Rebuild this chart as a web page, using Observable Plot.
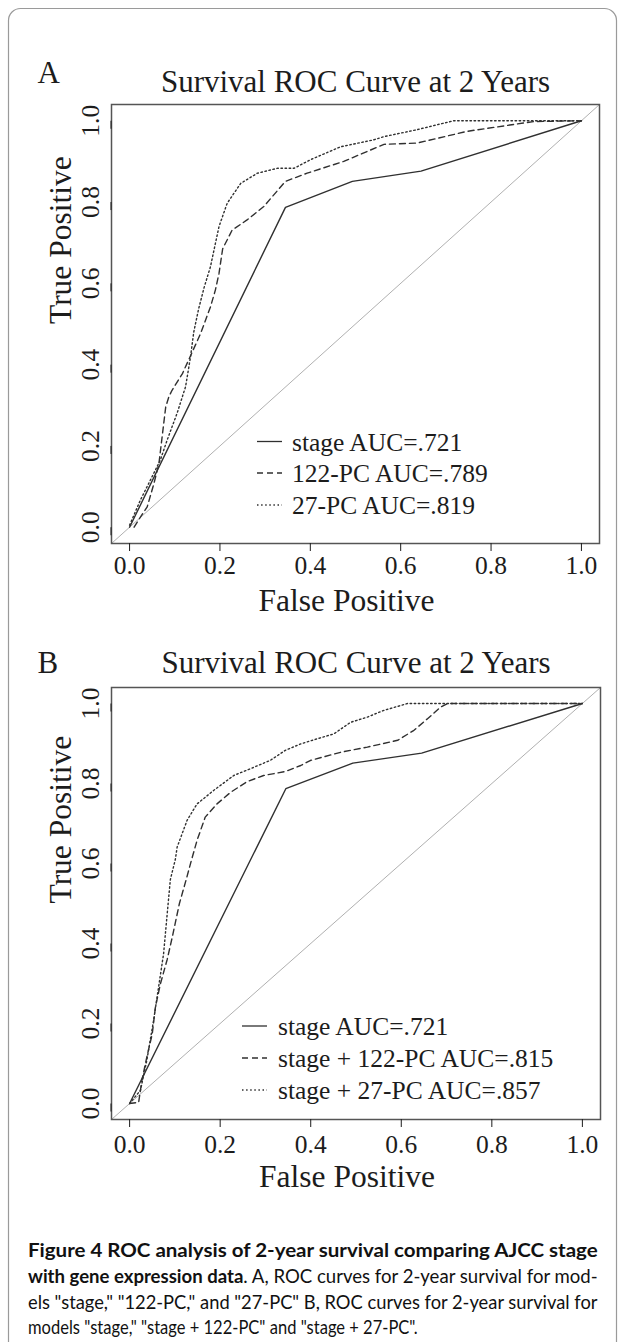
<!DOCTYPE html>
<html><head><meta charset="utf-8">
<script src="https://cdn.jsdelivr.net/npm/d3@7"></script>
<script src="https://cdn.jsdelivr.net/npm/@observablehq/plot@0.6"></script>
<style>
body{margin:0;background:#fff;}
#page{position:relative;width:624px;height:1342px;overflow:hidden;background:#fff;}
#page > svg, #page > div{position:absolute;left:0;}
</style></head><body><div id="page"></div>
<script>
// ---------- data ----------
const xTicks = [0, 0.2, 0.4, 0.6, 0.8, 1.0];
const yTicks = [0, 0.2, 0.4, 0.6, 0.8, 1.0];
const chartTitle = "Survival ROC Curve at 2 Years";
const xLabel = "False Positive";
const yLabel = "True Positive";
const panelLetters = ["A", "B"];

// stage (same in both panels)
const stageFPR = [0, 0.345, 0.493, 0.645, 1];
const stageTPR = [0, 0.787, 0.851, 0.876, 1];

// Panel A: 122-PC
const pc122FPR = [0.01, 0.024, 0.039, 0.054, 0.065, 0.072, 0.080, 0.087, 0.094, 0.117, 0.135, 0.157, 0.179, 0.190, 0.198, 0.206, 0.227, 0.260, 0.297, 0.345, 0.393, 0.474, 0.563, 0.636, 0.747, 0.894, 1];
const pc122TPR = [0.0, 0.025, 0.050, 0.108, 0.157, 0.222, 0.296, 0.321, 0.337, 0.378, 0.422, 0.476, 0.542, 0.584, 0.625, 0.685, 0.731, 0.756, 0.789, 0.851, 0.871, 0.900, 0.942, 0.945, 0.974, 0.998, 1];
// Panel A: 27-PC
const pc27FPR = [0, 0.024, 0.046, 0.068, 0.083, 0.105, 0.124, 0.135, 0.142, 0.153, 0.165, 0.179, 0.198, 0.216, 0.246, 0.283, 0.327, 0.364, 0.400, 0.467, 0.540, 0.563, 0.636, 0.717, 1];
const pc27TPR = [0.005, 0.067, 0.116, 0.165, 0.214, 0.280, 0.346, 0.420, 0.480, 0.538, 0.590, 0.641, 0.740, 0.797, 0.846, 0.871, 0.883, 0.883, 0.904, 0.936, 0.953, 0.961, 0.978, 1.0, 1];

// Panel B: stage + 122-PC
const st122FPR = [0, 0.020, 0.027, 0.038, 0.050, 0.057, 0.068, 0.083, 0.095, 0.110, 0.125, 0.137, 0.149, 0.167, 0.193, 0.223, 0.260, 0.296, 0.344, 0.378, 0.400, 0.466, 0.525, 0.592, 0.628, 0.658, 0.687, 0.702, 1];
const st122TPR = [0, 0.003, 0.057, 0.116, 0.174, 0.241, 0.299, 0.360, 0.420, 0.500, 0.560, 0.610, 0.658, 0.716, 0.749, 0.778, 0.805, 0.820, 0.830, 0.845, 0.858, 0.878, 0.891, 0.908, 0.933, 0.962, 0.991, 1.0, 1];
// Panel B: stage + 27-PC
const st27FPR = [0, 0.024, 0.038, 0.053, 0.064, 0.075, 0.079, 0.083, 0.090, 0.101, 0.105, 0.127, 0.149, 0.186, 0.230, 0.267, 0.311, 0.344, 0.378, 0.415, 0.451, 0.488, 0.525, 0.562, 0.614, 1];
const st27TPR = [0, 0.033, 0.108, 0.208, 0.291, 0.374, 0.424, 0.474, 0.560, 0.610, 0.641, 0.708, 0.749, 0.783, 0.820, 0.837, 0.858, 0.883, 0.899, 0.912, 0.924, 0.953, 0.966, 0.983, 1.0, 1];

const legendA = ["stage AUC=.721", "122-PC AUC=.789", "27-PC AUC=.819"];
const legendB = ["stage AUC=.721", "stage + 122-PC AUC=.815", "stage + 27-PC AUC=.857"];
const lineTypes = ["solid", "dashed", "dotted"];

const captionLines = [
  [["Figure 4 ROC analysis of 2-year survival comparing AJCC stage", true]],
  [["with gene expression data", true], [". A, ROC curves for 2-year survival for mod-", false]],
  [["els \"stage,\" \"122-PC,\" and \"27-PC\" B, ROC curves for 2-year survival for", false]],
  [["models \"stage,\" \"stage + 122-PC\" and \"stage + 27-PC\".", false]]
];

// ---------- styles ----------
const W = 624;
const serif = "'Liberation Serif','Times New Roman',serif";
const ink = "#1c1c1c", curveInk = "#303030", frameInk = "#555", diagInk = "#b0b0b0";
const dashOf = {solid: null, dashed: "6,4", dotted: "1.5,2.6"};
const dom = [-0.04, 1.04];
const pts = (fpr, tpr) => fpr.map((x, i) => ({x, y: tpr[i]}));

function panel(o) {
  return Plot.plot({
    width: W, height: o.height,
    marginTop: o.mt, marginBottom: o.mb, marginLeft: 111, marginRight: o.mr,
    x: {domain: dom}, y: {domain: dom},
    style: {fontFamily: serif, color: ink, background: "transparent", overflow: "visible"},
    marks: [
      Plot.line(dom.map(v => ({x: v, y: v})), {x: "x", y: "y", stroke: diagInk, strokeWidth: 1}),
      ...o.curves.map((c, i) => Plot.line(pts(c[0], c[1]), {
        x: "x", y: "y", stroke: curveInk, strokeWidth: 1.4,
        strokeDasharray: dashOf[lineTypes[i]] ?? undefined
      })),
      Plot.frame({stroke: frameInk, strokeWidth: 1.5}),
      Plot.axisX({ticks: xTicks, tickFormat: d => d.toFixed(1), tickSize: 8, tickPadding: o.xPad, fontSize: 25.5, label: null}),
      Plot.axisY({ticks: yTicks, tickFormat: d => d.toFixed(1), tickSize: 8, tickPadding: 5, fontSize: 25.5, label: null,
                  rotate: -90, textAnchor: "middle", lineAnchor: "bottom"}),
      Plot.text([o.letter], {text: d => d, frameAnchor: "top-left", dx: -74, dy: o.letterDy, textAnchor: "start", lineAnchor: "bottom", fontSize: 31}),
      Plot.text([chartTitle], {text: d => d, frameAnchor: "top", dy: o.titleDy, lineAnchor: "bottom", fontSize: 31}),
      Plot.text([xLabel], {text: d => d, frameAnchor: "bottom", dx: -9, dy: o.xlabDy, lineAnchor: "bottom", fontSize: 31.5}),
      Plot.text([yLabel], {text: d => d, frameAnchor: "left", dx: -41, rotate: -90, lineAnchor: "bottom", fontSize: 31.5})
    ]
  });
}

const page = document.getElementById("page");

const pA = panel({letter: panelLetters[0], height: 630, mt: 104, mb: 87, mr: 25, xPad: 4, titleDy: -13, letterDy: -22, xlabDy: 67,
  curves: [[stageFPR, stageTPR], [pc122FPR, pc122TPR], [pc27FPR, pc27TPR]]});
pA.style.top = "0px";
page.appendChild(pA);

const pB = panel({letter: panelLetters[1], height: 570, mt: 57, mb: 81, mr: 24, xPad: 7, titleDy: -15, letterDy: -15, xlabDy: 67,
  curves: [[stageFPR, stageTPR], [st122FPR, st122TPR], [st27FPR, st27TPR]]});
pB.style.top = "630px";
page.appendChild(pB);

// ---------- overlay: border, legends, caption ----------
const ov = d3.create("svg").attr("width", W).attr("height", 1342).style("top", "0px");
page.appendChild(ov.node());
ov.append("rect").attr("x", 8.5).attr("y", 8.5).attr("width", 608).attr("height", 1420).attr("rx", 12)
  .attr("fill", "none").attr("stroke", "#9a9a9a").attr("stroke-width", 1.2);

function legend(items, x1, x2, tx, ys) {
  const g = ov.append("g");
  items.forEach((t, i) => {
    g.append("line").attr("x1", x1).attr("x2", x2).attr("y1", ys[i]).attr("y2", ys[i])
      .attr("stroke", curveInk).attr("stroke-width", 1.3)
      .attr("stroke-dasharray", dashOf[lineTypes[i]]);
    g.append("text").attr("x", tx).attr("y", ys[i] + 9).text(t)
      .attr("font-family", serif).attr("font-size", 25.5).attr("fill", ink);
  });
}
legend(legendA, 257, 282, 292, [441.5, 473, 505]);
legend(legendB, 242, 267, 278, [1026, 1058, 1090]);

// caption: each line squeezed horizontally (like the condensed original face) to its measured width
const capBase = [1257, 1283, 1309, 1334];
const capLen = [570, 570, 570, 390];
captionLines.forEach((segs, i) => {
  const t = ov.append("text")
    .attr("font-family", "Lato, 'Open Sans', sans-serif").attr("font-size", 19.5).attr("fill", "#111");
  segs.forEach(([s, b]) => t.append("tspan").attr("font-weight", b ? 700 : 400).text(s));
  const natural = t.node().getComputedTextLength();
  const sx = capLen[i] / natural;
  t.attr("transform", `translate(28,${capBase[i]}) scale(${sx},1)`);
});
</script></body></html>
